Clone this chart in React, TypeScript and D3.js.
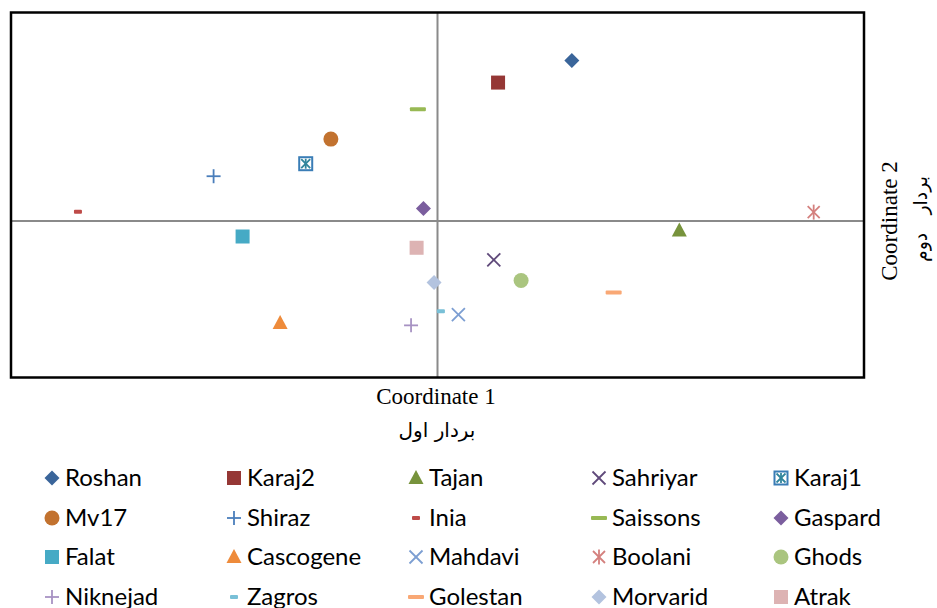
import React from "react";
import { scaleLinear } from "d3";

// genotype names, in legend order
const genotypes = [
  "Roshan", "Karaj2", "Tajan", "Sahriyar", "Karaj1",
  "Mv17", "Shiraz", "Inia", "Saissons", "Gaspard",
  "Falat", "Cascogene", "Mahdavi", "Boolani", "Ghods",
  "Niknejad", "Zagros", "Golestan", "Morvarid", "Atrak"
];
const coord1 = [
  0.315, 0.142, 0.567, 0.132, -0.309,
  -0.25, -0.525, -0.843, -0.046, -0.033,
  -0.457, -0.369, 0.049, 0.882, 0.196,
  -0.062, 0.008, 0.413, -0.008, -0.049
];
const coord2 = [
  0.77, 0.664, -0.045, -0.186, 0.275,
  0.393, 0.215, 0.045, 0.536, 0.06,
  -0.074, -0.489, -0.448, 0.043, -0.285,
  -0.5, -0.432, -0.342, -0.294, -0.128
];
const markers = [
  "diamond", "square", "triangle", "x", "boxx",
  "circle", "plus", "shortdash", "dash", "diamond",
  "square", "triangle", "x", "star", "circle",
  "plus", "shortdash", "dash", "diamond", "square"
];
const colors = [
  "#3A659A", "#953735", "#77933C", "#5F497A", "#3A7DB6",
  "#C2722F", "#4A7EBB", "#BE4B48", "#98B954", "#7B5E9E",
  "#46AAC5", "#EE8B3B", "#7C9ED2", "#D4807E", "#AAC57F",
  "#A792C3", "#79C0D7", "#F9A875", "#B3C3DF", "#DDB3B3"
];

const W = 937;
const H = 608;
const box = { left: 11, right: 864, top: 12.5, bottom: 377.5 };

function Marker({ kind, color, x, y }: { kind: string; color: string; x: number; y: number }) {
  const s = 15;
  const h = s / 2;
  switch (kind) {
    case "diamond":
      return <polygon points={`${x},${y - h} ${x + h},${y} ${x},${y + h} ${x - h},${y}`} fill={color} />;
    case "square":
      return <rect x={x - 7} y={y - 7} width={14} height={14} fill={color} />;
    case "triangle":
      return <polygon points={`${x},${y - 8} ${x + 7.5},${y + 6} ${x - 7.5},${y + 6}`} fill={color} />;
    case "circle":
      return <circle cx={x} cy={y} r={7.5} fill={color} />;
    case "x":
      return (
        <g stroke={color} strokeWidth={1.8}>
          <line x1={x - 6.5} y1={y - 6.5} x2={x + 6.5} y2={y + 6.5} />
          <line x1={x - 6.5} y1={y + 6.5} x2={x + 6.5} y2={y - 6.5} />
        </g>
      );
    case "plus":
      return (
        <g stroke={color} strokeWidth={1.8}>
          <line x1={x - 7} y1={y} x2={x + 7} y2={y} />
          <line x1={x} y1={y - 7} x2={x} y2={y + 7} />
        </g>
      );
    case "star":
      return (
        <g stroke={color} strokeWidth={1.8}>
          <line x1={x - 6} y1={y - 6} x2={x + 6} y2={y + 6} />
          <line x1={x - 6} y1={y + 6} x2={x + 6} y2={y - 6} />
          <line x1={x} y1={y - 7.5} x2={x} y2={y + 7.5} />
        </g>
      );
    case "boxx":
      return (
        <g>
          <rect x={x - 6.5} y={y - 6.5} width={13} height={13} fill="#fff" stroke={color} strokeWidth={2} />
          <g stroke="#31859C" strokeWidth={1.8}>
            <line x1={x - 4.5} y1={y - 4.5} x2={x + 4.5} y2={y + 4.5} />
            <line x1={x - 4.5} y1={y + 4.5} x2={x + 4.5} y2={y - 4.5} />
            <line x1={x} y1={y - 5} x2={x} y2={y + 5} />
          </g>
        </g>
      );
    case "shortdash":
      return <rect x={x - 4} y={y - 2} width={8} height={4} rx={1} fill={color} />;
    case "dash":
      return <rect x={x - 8} y={y - 2} width={16} height={4} rx={1} fill={color} />;
    default:
      return null;
  }
}

export default function App() {
  const x = scaleLinear().domain([-1, 1]).range([box.left, box.right]);
  const y = scaleLinear().domain([-0.75, 1]).range([box.bottom, box.top]);

  const legendCols = [52, 234, 416, 599, 781];
  const legendRows = [478, 518, 557, 597];

  return (
    <svg width={W} height={H} style={{ position: "absolute", left: 0, top: 0, background: "#fff" }}>
      {/* zero lines */}
      <line x1={box.left} x2={box.right} y1={y(0)} y2={y(0)} stroke="#8A8A8A" strokeWidth={2} />
      <line x1={x(0)} x2={x(0)} y1={box.top} y2={box.bottom} stroke="#8A8A8A" strokeWidth={2} />

      {genotypes.map((g, i) => (
        <Marker key={g} kind={markers[i]} color={colors[i]} x={x(coord1[i])} y={y(coord2[i])} />
      ))}

      <rect
        x={box.left}
        y={box.top}
        width={box.right - box.left}
        height={box.bottom - box.top}
        fill="none"
        stroke="#000"
        strokeWidth={2.5}
      />

      {/* axis titles */}
      <text x={436} y={404} textAnchor="middle" fontFamily="'Liberation Serif', serif" fontSize={23} fill="#000">
        Coordinate 1
      </text>
      <text x={437} y={437} textAnchor="middle" fontFamily="'DejaVu Sans', sans-serif" fontSize={20} fill="#000">
        بردار اول
      </text>
      <text
        transform="translate(897,221) rotate(-90)"
        textAnchor="middle"
        fontFamily="'Liberation Serif', serif"
        fontSize={23}
        fill="#000"
      >
        Coordinate 2
      </text>
      <text
        transform="translate(927,219) rotate(-90)"
        textAnchor="middle"
        fontFamily="'DejaVu Sans', sans-serif"
        fontSize={19}
        fill="#000"
        style={{ whiteSpace: "pre" }}
      >
        {"بردار   دوم"}
      </text>

      {/* legend */}
      {genotypes.map((g, i) => {
        const cx = legendCols[i % 5];
        const cy = legendRows[Math.floor(i / 5)];
        return (
          <g key={"lg" + g}>
            <Marker kind={markers[i]} color={colors[i]} x={cx} y={cy} />
            <text x={cx + 13} y={cy + 8} fontFamily="Lato, sans-serif" fontSize={24} fill="#000">
              {g}
            </text>
          </g>
        );
      })}
    </svg>
  );
}
